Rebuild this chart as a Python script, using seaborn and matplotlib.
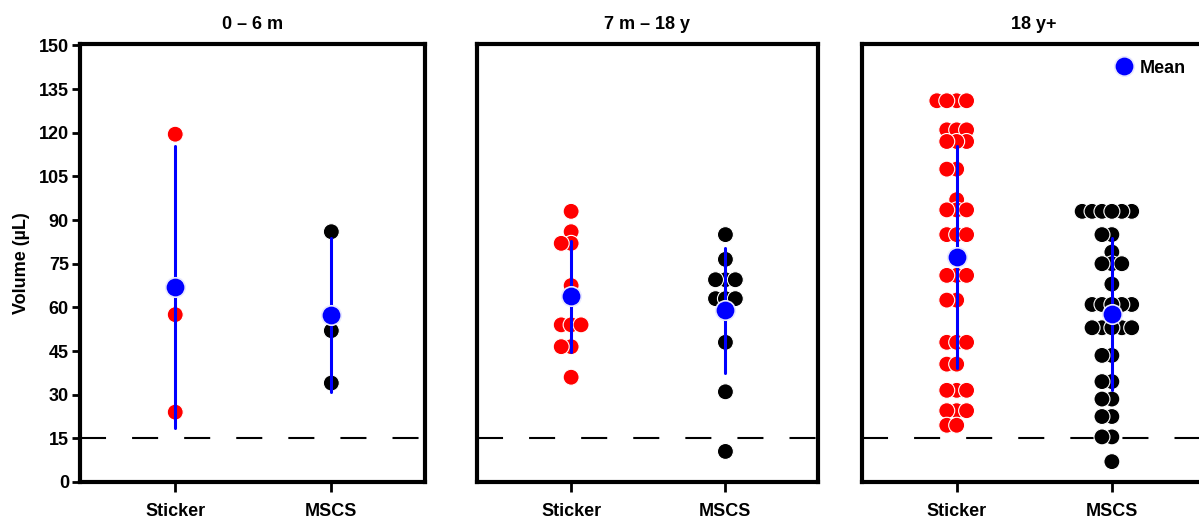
import matplotlib
matplotlib.use("Agg")
import matplotlib.pyplot as plt
import seaborn as sns
import pandas as pd

# values (Volume, µL)
panels = ["0 \u2013 6 m", "7 m \u2013 18 y", "18 y+"]
devices = ["Sticker", "MSCS"]

sticker_0_6m = [119.5, 57.5, 24.0]
mscs_0_6m = [86.0, 52.0, 34.0]

sticker_7m_18y = [93.0, 86.0, 82.0, 82.0, 67.5, 54.0, 54.0, 54.0, 46.5, 46.5, 36.0]
mscs_7m_18y = [85.0, 76.5, 69.5, 69.5, 69.5, 63.0, 63.0, 63.0, 48.0, 31.0, 10.5]

sticker_18y = [131, 131, 131, 131, 121, 121, 121, 117, 117, 117, 107.5, 107.5, 97,
               93.5, 93.5, 93.5, 85, 85, 85, 71, 71, 71, 62.5, 62.5, 48, 48, 48,
               40.5, 40.5, 31.5, 31.5, 31.5, 24.5, 24.5, 24.5, 19.5, 19.5]
mscs_18y = [93, 93, 93, 93, 93, 93, 85, 85, 79, 75, 75, 75, 68, 61, 61, 61, 61, 61,
            53, 53, 53, 53, 53, 43.5, 43.5, 34.5, 34.5, 28.5, 28.5, 22.5, 22.5,
            15.5, 15.5, 7]

threshold = 15
y_ticks = [0, 15, 30, 45, 60, 75, 90, 105, 120, 135, 150]

rows = []
for panel, (stk, msc) in zip(panels, [(sticker_0_6m, mscs_0_6m),
                                      (sticker_7m_18y, mscs_7m_18y),
                                      (sticker_18y, mscs_18y)]):
    for v in stk:
        rows.append({"panel": panel, "device": "Sticker", "volume": v})
    for v in msc:
        rows.append({"panel": panel, "device": "MSCS", "volume": v})
df = pd.DataFrame(rows)

sns.set_style("ticks")
plt.rcParams["font.family"] = ["Liberation Sans", "DejaVu Sans"]
plt.rcParams["font.weight"] = "bold"
for key in ["text.color", "axes.labelcolor", "xtick.color", "ytick.color"]:
    plt.rcParams[key] = "black"

fig = plt.figure(figsize=(11.99, 5.23), dpi=100)
W, H = 1199, 523
boxes = [(80, 425), (477, 818), (862, 1205)]
top_px, bot_px = 44, 482
axes = []
for x0, x1 in boxes:
    axes.append(fig.add_axes([x0 / W, (H - bot_px) / H, (x1 - x0) / W, (bot_px - top_px) / H]))

palette = {"Sticker": "#ff0000", "MSCS": "#000000"}

for i, (ax, panel) in enumerate(zip(axes, panels)):
    sub = df[df["panel"] == panel]
    ax.axhline(threshold, color="black", lw=1.5, dashes=(12.5, 12.5), zorder=0.5)
    sns.swarmplot(data=sub, x="device", y="volume", hue="device", order=devices,
                  palette=palette, size=6, edgecolor="white", linewidth=0.8,
                  legend=False, ax=ax, zorder=2)
    sns.pointplot(data=sub, x="device", y="volume", order=devices, errorbar="sd",
                  color="#0000ff", markers="o", linestyle="none", markersize=14,
                  markeredgecolor="#e8e8ff", markeredgewidth=1.2, zorder=6,
                  err_kws={"linewidth": 2.2, "zorder": 5}, ax=ax,
                  label="Mean" if i == 2 else None)
    ax.set_xlim(-0.61, 1.6)
    ax.set_ylim(0, 150.5)
    ax.set_xlabel("")
    ax.set_ylabel("")
    ax.set_title(panel, fontsize=13, fontweight="bold", pad=11)
    for s in ax.spines.values():
        s.set_visible(True)
        s.set_linewidth(3)
        s.set_color("black")
    ax.tick_params(axis="x", length=7, width=2, labelsize=13, pad=8)
    if i == 0:
        ax.set_yticks(y_ticks)
        ax.tick_params(axis="y", length=6, width=2, labelsize=13, pad=2)
        ax.set_ylabel("Volume (\u00b5L)", fontsize=13, fontweight="bold", labelpad=6)
    else:
        ax.set_yticks([])
    for lab in ax.get_xticklabels() + ax.get_yticklabels():
        lab.set_fontweight("bold")

axes[2].legend(loc="upper right", bbox_to_anchor=(0.98, 0.993), frameon=False,
               fontsize=13, handletextpad=0.25, borderaxespad=0.3, handlelength=1.2)

# let seaborn place the swarm, then enlarge the dots so they overlap like the original
fig.canvas.draw()
for ax in axes:
    for coll in ax.collections:
        coll.__dict__.pop("draw", None)
        coll.set_sizes([11.5 ** 2])

fig.savefig("out.png", dpi=100)
